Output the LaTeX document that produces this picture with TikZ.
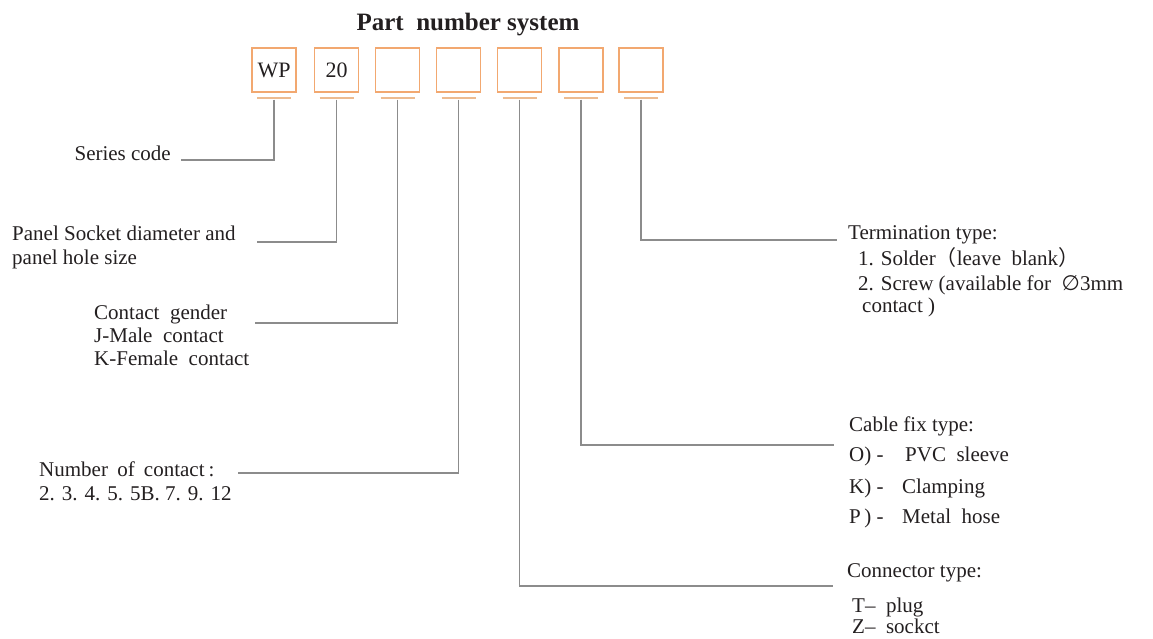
\documentclass[tikz,border=0pt]{standalone}
\usepackage{fontspec}
\setmainfont{Liberation Serif}
\newfontfamily\cjk{Noto Sans CJK SC}
\newfontfamily\symfont{DejaVu Sans}
\definecolor{boxorange}{HTML}{F2A870}
\definecolor{barorange}{HTML}{EDBB90}
\definecolor{leadgrey}{HTML}{8C8C8C}
\definecolor{ink}{HTML}{231F20}
\tikzset{
  partbox/.style={draw=boxorange, line width=1.4pt, minimum size=44pt, inner sep=0pt,
    text=ink, font=\fontsize{22}{24}\selectfont},
  partbar/.style={draw=barorange, line width=2pt},
  leader/.style={draw=leadgrey, line width=1.2pt},
  lbl/.style={inner sep=0pt, align=left, text=ink, font=\fontsize{21}{24}\selectfont}
}
\newcommand{\mypartbox}[3]
{
\node[partbox] (#1) at (#2,70) {#3};
\draw[partbar] ([xshift=-17pt,yshift=-5pt]#1.south) -- ([xshift=17pt,yshift=-5pt]#1.south);
}
\newcommand{\myleader}[2]
{
\draw[leader] ([yshift=-7pt]#1.south) |- (#2);
}

\begin{document}
\begin{tikzpicture}[x=1pt, y=-1pt]
  \useasboundingbox (0,0) rectangle (1153,639);

  \node[text=ink, font=\fontsize{25}{28}\selectfont\bfseries, anchor=base] (title) at (468,31)
    {Part\ \ number system};

  \mypartbox{WP}{274}{WP}
  \mypartbox{Size}{336.5}{20}
  \mypartbox{Gender}{397.5}{}
  \mypartbox{Count}{458.5}{}
  \mypartbox{Kind}{519.5}{}
  \mypartbox{Fix}{581}{}
  \mypartbox{Term}{641}{}

  % left side
  \coordinate (cSeries) at (181,160);
  \node[lbl, anchor=base east] (lSeries) at (171,161) {Series code};
  \myleader{WP}{cSeries}

  \coordinate (cSize) at (257,242);
  \node[lbl, anchor=north west] (lSize) at (12,225.5)
    {Panel Socket diameter and\\panel hole size};
  \myleader{Size}{cSize}

  \coordinate (cGender) at (255,323);
  \node[lbl, anchor=north west] (lGender) at (94,304.5)
    {Contact~~gender\\[-1pt]J-Male~~contact\\[-1pt]K-Female~~contact};
  \myleader{Gender}{cGender}

  \coordinate (cCount) at (238,473);
  \node[lbl, anchor=north west] (lCount) at (39,461.5)
    {Number\hspace{4pt} of\hspace{4pt} contact\hspace{4pt}:\\[0pt]2. 3. 4. 5. 5B. 7. 9. 12};
  \myleader{Count}{cCount}

  % right side
  \coordinate (cTerm) at (837,240);
  \node[lbl, anchor=north west] (lTerm) at (848,225)
    {Termination type:\\[2pt]
     \hspace*{10pt}1. Solder{\cjk （}leave~~blank{\cjk ）}\\[1pt]
     \hspace*{10pt}2. Screw (available for ~{\symfont ∅}3mm\\[-2pt]
     \hspace*{14pt}contact )};
  \myleader{Term}{cTerm}

  \coordinate (cFix) at (834,445);
  \node[lbl, anchor=north west] (lFix) at (849,416.5)
    {Cable fix type:\\[6pt]
     \makebox[56pt][l]{O)\ -}PVC~~sleeve\\[8pt]
     \makebox[53pt][l]{K)\ -}Clamping\\[6pt]
     \makebox[53pt][l]{P\,)\ -}Metal~~hose};
  \myleader{Fix}{cFix}

  \coordinate (cKind) at (833,586);
  \node[lbl, anchor=north west] (lKind) at (847,563.5)
    {Connector type:\\[11pt]
     \hspace*{5pt}T–~~plug\\[-3pt]
     \hspace*{5pt}Z–~~sockct};
  \myleader{Kind}{cKind}
\end{tikzpicture}
\end{document}
